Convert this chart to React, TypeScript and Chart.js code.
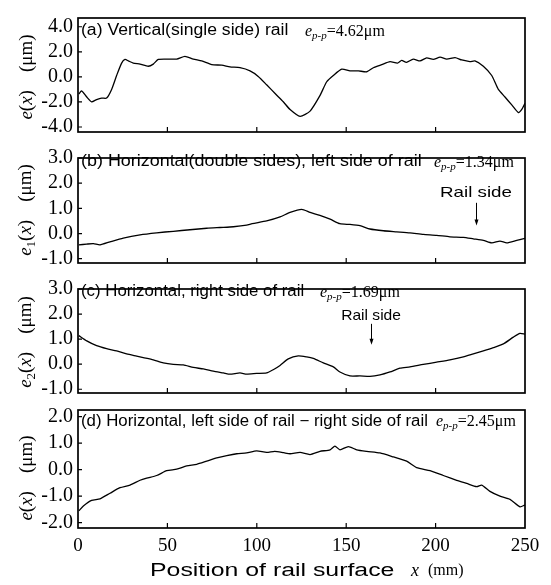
import React, { useEffect, useRef } from "react";
import { Chart, registerables } from "chart.js";

Chart.register(...registerables);

// ---------- data ----------
const xTicks = [0, 50, 100, 150, 200, 250];

// (a) Vertical (single side) rail
const xA = [0.5, 2, 4.9, 7.6, 10.4, 13.2, 16, 18.8, 21.6, 24.4, 26.3, 28.2, 30.9, 34.7, 39.3, 42.1, 44.9, 49.6, 55.2, 59.8, 64.5, 69.2, 74.8, 80.4, 85, 90.6, 96.2, 100.8, 105.5, 110.5, 114.8, 118.6, 124.2, 129.8, 135.3, 139.1, 142.8, 147.5, 152.1, 156.8, 161.5, 165.2, 169.9, 174.5, 178.7, 181, 183.7, 187.5, 191.3, 195, 198.7, 202.5, 206.2, 210.9, 214.6, 219.2, 222, 226.7, 231.4, 235.1, 238.8, 242.6, 246.3, 248.2, 250];
const yA = [-1.37, -1.12, -1.61, -1.99, -1.81, -1.69, -1.69, -1.0, 0.11, 1.1, 1.39, 1.27, 1.1, 1.02, 0.85, 1.02, 1.39, 1.42, 1.42, 1.64, 1.42, 1.27, 0.98, 0.93, 0.8, 0.73, 0.48, 0.04, -0.63, -1.37, -1.99, -2.61, -3.15, -2.73, -1.5, -0.39, 0.11, 0.61, 0.48, 0.48, 0.41, 0.73, 0.98, 1.22, 1.1, 1.32, 1.16, 1.42, 1.27, 1.52, 1.39, 1.57, 1.42, 1.54, 1.35, 1.22, 1.27, 0.85, 0.11, -1.0, -1.61, -2.24, -2.85, -2.6, -2.1];

// (b) Horizontal, left side of rail
const xB = [0.5, 4.8, 8.6, 12.3, 17.9, 25.3, 34.7, 44, 53.3, 62.6, 72, 79.4, 86.9, 94.3, 97.4, 105.5, 113, 118.6, 125.1, 129.8, 135.3, 141, 146.5, 152.1, 157.7, 163.3, 170.8, 178.2, 185.7, 193.1, 200.6, 208, 215.5, 221.1, 226.7, 231.4, 236, 239.8, 245.4, 250];
const yB = [-0.45, -0.42, -0.4, -0.45, -0.33, -0.18, -0.05, 0.03, 0.09, 0.15, 0.21, 0.24, 0.27, 0.33, 0.39, 0.5, 0.66, 0.84, 0.96, 0.84, 0.72, 0.57, 0.39, 0.36, 0.31, 0.18, 0.11, 0.07, 0.03, -0.03, -0.07, -0.13, -0.15, -0.21, -0.27, -0.37, -0.3, -0.37, -0.27, -0.19];

// (c) Horizontal, right side of rail
const xC = [0.5, 4.9, 10.4, 16, 21.6, 27.2, 32.8, 36.5, 42.1, 47.7, 53.3, 58.9, 64.5, 70.1, 75.7, 81.3, 85, 90.6, 94.3, 99.9, 105.5, 109.2, 113, 117.6, 123.2, 127.9, 131.6, 137.2, 142.8, 146.5, 152.1, 157.7, 163.3, 168.9, 174.5, 180.1, 185.7, 193.1, 200.6, 208, 215.5, 221.1, 226.7, 232.3, 237.9, 243.5, 247.2, 250];
const yC = [1.14, 0.93, 0.74, 0.62, 0.53, 0.41, 0.32, 0.26, 0.17, 0.05, -0.01, -0.03, -0.13, -0.19, -0.28, -0.35, -0.4, -0.35, -0.4, -0.37, -0.35, -0.22, -0.05, 0.21, 0.33, 0.29, 0.23, 0.05, -0.11, -0.31, -0.47, -0.47, -0.49, -0.43, -0.31, -0.16, -0.11, -0.01, 0.08, 0.17, 0.29, 0.41, 0.53, 0.66, 0.81, 1.08, 1.23, 1.2];

// (d) left side - right side
const xD = [0.5, 3, 7.6, 12.3, 17.9, 23.5, 29.1, 34.7, 38.4, 44, 49.6, 55.2, 60.8, 66.4, 72, 77.6, 83.2, 88.8, 94.3, 99.9, 105.5, 110, 115, 118.6, 124.2, 129.8, 135.3, 141, 143.7, 146.5, 151.2, 155.9, 161.5, 168.9, 176.4, 183.8, 189.4, 196.9, 204.3, 211.8, 217.4, 223, 225.8, 230.4, 236, 241.6, 247.2, 250];
const yD = [-1.55, -1.37, -1.16, -1.1, -0.89, -0.68, -0.58, -0.4, -0.32, -0.22, -0.04, 0.02, 0.14, 0.2, 0.32, 0.44, 0.53, 0.6, 0.63, 0.71, 0.65, 0.69, 0.64, 0.6, 0.65, 0.57, 0.69, 0.75, 0.89, 0.75, 0.87, 0.75, 0.69, 0.63, 0.48, 0.32, 0.08, -0.04, -0.22, -0.4, -0.52, -0.64, -0.58, -0.82, -1.0, -1.12, -1.4, -1.33];

const yTicksA = [-4, -2, 0, 2, 4];
const yTicksB = [-1, 0, 1, 2, 3];
const yTicksC = [-1, 0, 1, 2, 3];
const yTicksD = [-2, -1, 0, 1, 2];

const panelLabels = [
  "(a) Vertical(single side) rail",
  "(b) Horizontal(double sides), left side of rail",
  "(c) Horizontal, right side of rail",
  "(d) Horizontal, left side of rail \u2212 right side of rail",
];
const eppValues = ["4.62", "1.34", "1.69", "2.45"];
const ySubscripts = ["", "1", "2", ""];

// "Rail side" annotations in data units: [x, arrowTop, arrowBottom, textY]
const railNoteB = [222.6, 1.22, 0.32, 1.6];
const railNoteC = [163.9, 1.61, 0.78, 1.94];

// ---------- layout ----------
const W = 551;
const PLOT_RIGHT = 525;
const PAD = 12;
const serif = '"Liberation Serif", "Times New Roman", serif';
const sans = '"Liberation Sans", Arial, sans-serif';

const panels = [
  { x: xA, y: yA, ticks: yTicksA, min: -4.4, max: 4.7, top: 13, bottom: 137, note: null as number[] | null, noteScale: 1, labelScale: 1.1, labelY: 30, eppX: 305, eppY: 31, titleY: 77 },
  { x: xB, y: yB, ticks: yTicksB, min: -1.17, max: 3.0, top: 153, bottom: 268, note: railNoteB, noteScale: 1.25, labelScale: 1.12, labelY: 161, eppX: 434, eppY: 162, titleY: 210 },
  { x: xC, y: yC, ticks: yTicksC, min: -1.15, max: 3.0, top: 284, bottom: 398, note: railNoteC, noteScale: 1.04, labelScale: 1.05, labelY: 291, eppX: 320, eppY: 292, titleY: 342 },
  { x: xD, y: yD, ticks: yTicksD, min: -2.2, max: 2.25, top: 405, bottom: 528, note: null as number[] | null, noteScale: 1, labelScale: 1.05, labelY: 421, eppX: 436, eppY: 421, titleY: 478 },
];

function Panel({ idx }: { idx: number }) {
  const ref = useRef<HTMLCanvasElement | null>(null);
  const p = panels[idx];
  const last = idx === panels.length - 1;
  const xAxisH = 30;
  const h = PAD + (p.bottom - p.top) + (last ? xAxisH : PAD);

  useEffect(() => {
    if (!ref.current) return;
    const framePlugin = {
      id: "frame" + idx,
      afterDraw(chart: any) {
        const { ctx, chartArea: a, scales } = chart;
        ctx.save();
        ctx.strokeStyle = "#000";
        ctx.fillStyle = "#000";
        ctx.lineWidth = 1.7;
        ctx.strokeRect(a.left, a.top, a.right - a.left, a.bottom - a.top);
        ctx.lineWidth = 1.2;
        ctx.beginPath();
        for (const v of xTicks) {
          if (v === 0 || v === 250) continue;
          const px = scales.x.getPixelForValue(v);
          ctx.moveTo(px, a.bottom);
          ctx.lineTo(px, a.bottom - 5);
        }
        for (const v of p.ticks) {
          const py = scales.y.getPixelForValue(v);
          ctx.moveTo(a.left, py);
          ctx.lineTo(a.left + 4, py);
        }
        ctx.stroke();
        if (p.note) {
          const [nx, y1, y2, ty] = p.note;
          const px = Math.round(scales.x.getPixelForValue(nx)) + 0.5;
          const pTop = scales.y.getPixelForValue(y1);
          const pBot = scales.y.getPixelForValue(y2);
          ctx.lineWidth = 1;
          ctx.beginPath();
          ctx.moveTo(px, pTop);
          ctx.lineTo(px, pBot - 4);
          ctx.stroke();
          ctx.beginPath();
          ctx.moveTo(px - 2, pBot - 6);
          ctx.lineTo(px + 2, pBot - 6);
          ctx.lineTo(px, pBot);
          ctx.closePath();
          ctx.fill();
          const tx = scales.x.getPixelForValue(nx);
          const typ = scales.y.getPixelForValue(ty);
          ctx.translate(tx, typ);
          ctx.scale(p.noteScale, 1);
          ctx.font = '15px "Liberation Sans", Arial, sans-serif';
          ctx.textAlign = "center";
          ctx.textBaseline = "middle";
          ctx.fillText("Rail side", 0, 0);
        }
        ctx.restore();
      },
    };

    const xScale: any = {
      type: "linear",
      min: 0,
      max: 250,
      display: last,
      grid: { display: false, drawTicks: false },
      border: { display: false },
      ticks: {
        stepSize: 50,
        autoSkip: false,
        maxRotation: 0,
        padding: 7,
        color: "#000",
        font: { family: serif, size: 19 },
      },
    };
    if (last) {
      xScale.afterFit = (s: any) => {
        s.height = xAxisH;
      };
    }

    const chart = new Chart(ref.current, {
      type: "line",
      data: {
        datasets: [
          {
            data: p.x.map((xv, i) => ({ x: xv, y: p.y[i] })),
            borderColor: "#000",
            borderWidth: 1.3,
            pointRadius: 0,
            tension: 0.2,
            fill: false,
          },
        ],
      },
      options: {
        responsive: false,
        animation: false,
        devicePixelRatio: 1,
        layout: { padding: { left: 0, right: W - PLOT_RIGHT, top: PAD, bottom: last ? 0 : PAD } },
        plugins: { legend: { display: false }, tooltip: { enabled: false } },
        scales: {
          x: xScale,
          y: {
            type: "linear",
            min: p.min,
            max: p.max,
            grid: { display: false, drawTicks: false },
            border: { display: false },
            ticks: {
              stepSize: p.ticks[1] - p.ticks[0],
              includeBounds: false,
              autoSkip: false,
              padding: 5,
              color: "#000",
              font: { family: serif, size: 20 },
              callback: (v: any) => Number(v).toFixed(1),
            },
            afterFit: (s: any) => {
              s.width = 78;
            },
          },
        },
      },
      plugins: [framePlugin],
    } as any);
    return () => chart.destroy();
  }, []);

  return (
    <canvas
      ref={ref}
      width={W}
      height={h}
      style={{ position: "absolute", left: 0, top: p.top - PAD, width: W, height: h }}
    />
  );
}

function Epp({ value }: { value: string }) {
  return (
    <span>
      <i>e</i>
      <i style={{ fontSize: 11, position: "relative", top: 3 }}>p-p</i>=
      {value}μm
    </span>
  );
}

export default function App() {
  return (
    <div
      style={{
        position: "fixed",
        left: 0,
        top: 0,
        width: W,
        height: 585,
        background: "#fff",
        overflow: "hidden",
        color: "#000",
      }}
    >
      {panels.map((_, i) => (
        <Panel key={"c" + i} idx={i} />
      ))}
      {panels.map((p, i) => (
        <React.Fragment key={"t" + i}>
          <div
            style={{
              position: "absolute",
              left: 81,
              top: p.labelY - 10,
              height: 20,
              lineHeight: "20px",
              fontFamily: sans,
              fontSize: 16,
              whiteSpace: "nowrap",
              transform: `scaleX(${p.labelScale})`,
              transformOrigin: "left center",
            }}
          >
            {panelLabels[i]}
          </div>
          <div
            style={{
              position: "absolute",
              left: p.eppX,
              top: p.eppY - 10,
              height: 20,
              lineHeight: "20px",
              fontFamily: serif,
              fontSize: 16,
              whiteSpace: "nowrap",
            }}
          >
            <Epp value={eppValues[i]} />
          </div>
          <div
            style={{
              position: "absolute",
              left: 26,
              top: p.titleY,
              fontFamily: serif,
              fontSize: 19,
              lineHeight: "20px",
              whiteSpace: "nowrap",
              transform: "translate(-50%, -50%) rotate(-90deg)",
            }}
          >
            <i>e</i>
            {ySubscripts[i] ? (
              <span style={{ fontSize: 13, position: "relative", top: 4 }}>{ySubscripts[i]}</span>
            ) : null}
            (<i>x</i>)<span style={{ display: "inline-block", width: 18 }} />(μm)
          </div>
        </React.Fragment>
      ))}
      <div
        style={{
          position: "absolute",
          left: 150,
          top: 559,
          height: 22,
          lineHeight: "22px",
          fontFamily: sans,
          fontSize: 18,
          whiteSpace: "nowrap",
          transform: "scaleX(1.38)",
          transformOrigin: "left center",
        }}
      >
        Position of rail surface
      </div>
      <div
        style={{
          position: "absolute",
          left: 411,
          top: 559,
          height: 22,
          lineHeight: "22px",
          fontFamily: serif,
          fontSize: 18,
          whiteSpace: "nowrap",
        }}
      >
        <i>x</i>
      </div>
      <div
        style={{
          position: "absolute",
          left: 428,
          top: 559,
          height: 22,
          lineHeight: "22px",
          fontFamily: serif,
          fontSize: 16,
          whiteSpace: "nowrap",
        }}
      >
        (mm)
      </div>
    </div>
  );
}
